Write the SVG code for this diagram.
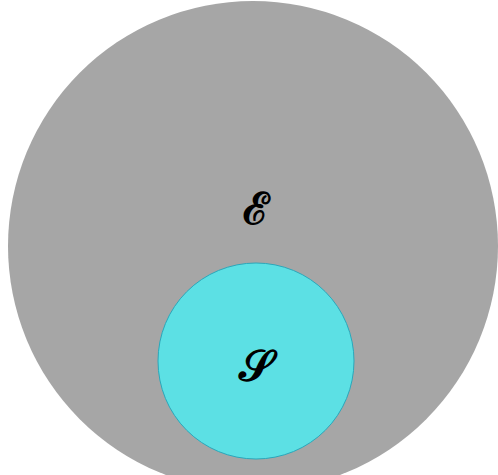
<svg xmlns="http://www.w3.org/2000/svg" width="498" height="475" viewBox="0 0 498 475">
<style>
.lbl{font-family:"DejaVu Serif","Liberation Serif",serif;font-size:44px;fill:#000;text-anchor:middle;font-weight:bold}
</style>
<rect width="498" height="475" fill="#fff"/>
<g id="E">
<circle cx="253" cy="246" r="245" fill="#a6a6a6"/>
<text class="lbl" x="256" y="224">ℰ</text>
</g>
<g id="S">
<circle cx="256" cy="361" r="98" fill="#5ce0e4" stroke="#2aa8bb" stroke-width="1"/>
<text class="lbl" x="256" y="381">𝒮</text>
</g>
<g id="connectors"/>
</svg>
